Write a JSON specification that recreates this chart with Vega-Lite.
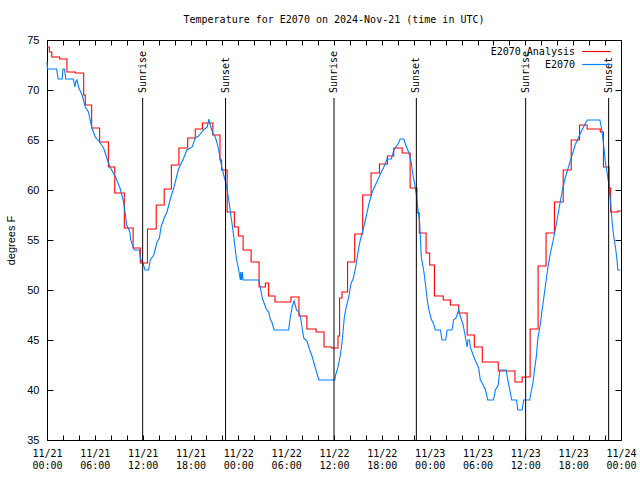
{
  "$schema": "https://vega.github.io/schema/vega-lite/v6.json",
  "width": 574,
  "height": 400,
  "autosize": {"type": "none"},
  "padding": {"left": 47, "top": 40, "right": 19, "bottom": 40},
  "background": "white",
  "title": {"text": "Temperature for E2070 on 2024-Nov-21 (time in UTC)", "font": "DejaVu Sans Mono", "fontSize": 10, "fontWeight": "normal", "offset": 16, "anchor": "middle", "color": "black", "baseline": "middle", "dy": 12},
  "config": {
    "view": {"stroke": "black", "strokeWidth": 1},
    "axis": {"domain": false, "grid": false, "tickColor": "black", "labelColor": "black", "titleColor": "black"},
    "legend": {"orient": "none", "legendX": 542, "legendY": 4, "padding": 0, "symbolType": "M-2.2,0H2.2", "symbolSize": 169, "symbolStrokeWidth": 1.2, "labelFont": "DejaVu Sans Mono", "labelFontSize": 10, "labelColor": "black", "labelAlign": "right", "labelOffset": -29, "rowPadding": 0}
  },
  "datasets": {
    "analysis": [
      {"hour": 0, "temp": 74.3}, {"hour": 0.3, "temp": 73.8}, {"hour": 0.6, "temp": 73.3}, {"hour": 1.6, "temp": 73.1},
      {"hour": 2.5, "temp": 71.8}, {"hour": 3.55, "temp": 71.7}, {"hour": 4.6, "temp": 69.5}, {"hour": 4.8, "temp": 68.5},
      {"hour": 5.6, "temp": 66.2}, {"hour": 6.6, "temp": 64.8}, {"hour": 7.7, "temp": 62.3}, {"hour": 8.5, "temp": 59.7},
      {"hour": 9.7, "temp": 56.2}, {"hour": 10.8, "temp": 54.2}, {"hour": 11.7, "temp": 52.7}, {"hour": 12.6, "temp": 56.1},
      {"hour": 13.7, "temp": 58.5}, {"hour": 14.7, "temp": 60.1}, {"hour": 15.6, "temp": 62.5}, {"hour": 16.55, "temp": 64.2},
      {"hour": 17.65, "temp": 65.2}, {"hour": 18.6, "temp": 66.1}, {"hour": 19.5, "temp": 66.7}, {"hour": 20.8, "temp": 65.5},
      {"hour": 21.7, "temp": 63.0}, {"hour": 21.9, "temp": 62.0}, {"hour": 22.6, "temp": 57.8}, {"hour": 23.5, "temp": 56.3},
      {"hour": 24.0, "temp": 55.4}, {"hour": 24.6, "temp": 54.0}, {"hour": 25.6, "temp": 52.8}, {"hour": 26.6, "temp": 50.3},
      {"hour": 27.4, "temp": 50.7}, {"hour": 27.8, "temp": 49.4}, {"hour": 28.6, "temp": 48.8}, {"hour": 30.6, "temp": 49.3},
      {"hour": 31.6, "temp": 47.4}, {"hour": 32.6, "temp": 46.1}, {"hour": 33.75, "temp": 45.8}, {"hour": 34.75, "temp": 44.3},
      {"hour": 35.7, "temp": 44.2}, {"hour": 36.5, "temp": 45.4}, {"hour": 36.7, "temp": 49.2}, {"hour": 37.0, "temp": 49.8},
      {"hour": 37.7, "temp": 52.8}, {"hour": 38.6, "temp": 55.6}, {"hour": 39.6, "temp": 59.5}, {"hour": 40.65, "temp": 61.7},
      {"hour": 41.7, "temp": 62.6}, {"hour": 42.7, "temp": 63.4}, {"hour": 43.5, "temp": 64.2}, {"hour": 44.55, "temp": 63.7},
      {"hour": 45.55, "temp": 60.2}, {"hour": 46.4, "temp": 57.7}, {"hour": 46.7, "temp": 55.7}, {"hour": 47.55, "temp": 53.7},
      {"hour": 48.0, "temp": 52.5}, {"hour": 48.6, "temp": 49.4}, {"hour": 49.7, "temp": 49.0}, {"hour": 50.6, "temp": 48.5},
      {"hour": 51.65, "temp": 47.7}, {"hour": 52.7, "temp": 45.5}, {"hour": 53.6, "temp": 44.3}, {"hour": 54.6, "temp": 42.8},
      {"hour": 56.6, "temp": 41.9}, {"hour": 58.7, "temp": 40.8}, {"hour": 59.6, "temp": 41.3}, {"hour": 60.6, "temp": 46.1},
      {"hour": 61.6, "temp": 52.4}, {"hour": 62.6, "temp": 55.7}, {"hour": 63.65, "temp": 58.8}, {"hour": 64.75, "temp": 62.0},
      {"hour": 65.75, "temp": 65.0}, {"hour": 66.8, "temp": 66.5}, {"hour": 67.75, "temp": 66.1}, {"hour": 69.4, "temp": 65.8},
      {"hour": 69.8, "temp": 62.3}, {"hour": 70.5, "temp": 60.2}, {"hour": 70.7, "temp": 57.8}, {"hour": 71.6, "temp": 57.9},
      {"hour": 72, "temp": 57.9}
    ],
    "obs": [
      {"hour": 0, "temp": 72.8}, {"hour": 0.05, "temp": 72.1}, {"hour": 1.2, "temp": 72.1}, {"hour": 1.4, "temp": 71.1},
      {"hour": 1.9, "temp": 71.1}, {"hour": 2.0, "temp": 72.1}, {"hour": 2.2, "temp": 72.1}, {"hour": 2.35, "temp": 71.1},
      {"hour": 3.3, "temp": 71.1}, {"hour": 3.5, "temp": 70.3}, {"hour": 3.6, "temp": 70.8}, {"hour": 3.75, "temp": 71.0},
      {"hour": 4.0, "temp": 70.2}, {"hour": 4.4, "temp": 69.5}, {"hour": 4.8, "temp": 68.3}, {"hour": 5.2, "temp": 67.8},
      {"hour": 5.6, "temp": 66.3}, {"hour": 6.05, "temp": 65.3}, {"hour": 6.6, "temp": 64.8}, {"hour": 7.1, "temp": 64.2},
      {"hour": 7.5, "temp": 63.2}, {"hour": 7.9, "temp": 62.3}, {"hour": 8.6, "temp": 61.3}, {"hour": 9.2, "temp": 60.1},
      {"hour": 9.6, "temp": 58.8}, {"hour": 9.8, "temp": 57.7}, {"hour": 10.0, "temp": 56.5}, {"hour": 10.4, "temp": 55.8},
      {"hour": 10.5, "temp": 55.0}, {"hour": 10.95, "temp": 54.0}, {"hour": 11.6, "temp": 54.0}, {"hour": 11.7, "temp": 53.2},
      {"hour": 12.1, "temp": 52.5}, {"hour": 12.3, "temp": 52.0}, {"hour": 12.75, "temp": 52.0}, {"hour": 12.95, "temp": 53.0},
      {"hour": 13.4, "temp": 53.5}, {"hour": 13.8, "temp": 54.8}, {"hour": 14.1, "temp": 55.2}, {"hour": 14.3, "temp": 56.3},
      {"hour": 14.7, "temp": 57.2}, {"hour": 15.05, "temp": 57.8}, {"hour": 15.5, "temp": 59.2}, {"hour": 15.9, "temp": 60.2},
      {"hour": 16.5, "temp": 62.1}, {"hour": 17.1, "temp": 63.1}, {"hour": 17.55, "temp": 64.0}, {"hour": 18.2, "temp": 64.3},
      {"hour": 18.6, "temp": 65.2}, {"hour": 19.0, "temp": 65.4}, {"hour": 19.65, "temp": 66.0}, {"hour": 20.1, "temp": 66.3},
      {"hour": 20.3, "temp": 67.1}, {"hour": 20.5, "temp": 66.4}, {"hour": 20.8, "temp": 65.7}, {"hour": 21.1, "temp": 65.3},
      {"hour": 21.3, "temp": 64.8}, {"hour": 21.5, "temp": 64.1}, {"hour": 21.75, "temp": 63.0}, {"hour": 21.95, "temp": 62.2},
      {"hour": 22.2, "temp": 61.4}, {"hour": 22.4, "temp": 60.8}, {"hour": 22.6, "temp": 60.0}, {"hour": 22.8, "temp": 59.0},
      {"hour": 23.0, "temp": 57.8}, {"hour": 23.2, "temp": 56.7}, {"hour": 23.4, "temp": 55.5}, {"hour": 23.55, "temp": 54.5},
      {"hour": 23.75, "temp": 53.2}, {"hour": 24.05, "temp": 52.0}, {"hour": 24.25, "temp": 51.0}, {"hour": 24.3, "temp": 51.8},
      {"hour": 24.4, "temp": 51.0}, {"hour": 24.5, "temp": 51.8}, {"hour": 24.6, "temp": 51.0}, {"hour": 26.55, "temp": 51.0},
      {"hour": 26.75, "temp": 50.3}, {"hour": 27.0, "temp": 49.2}, {"hour": 27.5, "temp": 48.1}, {"hour": 27.8, "temp": 47.8},
      {"hour": 28.0, "temp": 47.1}, {"hour": 28.2, "temp": 46.8}, {"hour": 28.5, "temp": 46.0}, {"hour": 30.3, "temp": 46.0},
      {"hour": 30.5, "temp": 47.2}, {"hour": 30.75, "temp": 48.3}, {"hour": 31.0, "temp": 48.9}, {"hour": 31.3, "temp": 48.0},
      {"hour": 31.6, "temp": 47.8}, {"hour": 31.8, "temp": 47.3}, {"hour": 32.0, "temp": 46.2}, {"hour": 32.2, "temp": 45.2},
      {"hour": 32.6, "temp": 44.9}, {"hour": 32.95, "temp": 44.0}, {"hour": 33.2, "temp": 43.5}, {"hour": 33.45, "temp": 42.8},
      {"hour": 33.7, "temp": 42.1}, {"hour": 34.1, "temp": 41.0}, {"hour": 36.1, "temp": 41.0}, {"hour": 36.2, "temp": 41.5},
      {"hour": 36.4, "temp": 42.0}, {"hour": 36.6, "temp": 42.7}, {"hour": 36.8, "temp": 43.5}, {"hour": 37.0, "temp": 44.7},
      {"hour": 37.15, "temp": 46.0}, {"hour": 37.3, "temp": 47.3}, {"hour": 37.5, "temp": 48.2}, {"hour": 37.85, "temp": 49.3},
      {"hour": 38.15, "temp": 50.7}, {"hour": 38.4, "temp": 51.1}, {"hour": 38.7, "temp": 52.2}, {"hour": 38.9, "temp": 53.2},
      {"hour": 39.1, "temp": 54.2}, {"hour": 39.3, "temp": 55.0}, {"hour": 39.5, "temp": 55.6}, {"hour": 39.95, "temp": 57.0},
      {"hour": 40.35, "temp": 58.5}, {"hour": 40.8, "temp": 59.8}, {"hour": 41.2, "temp": 60.5}, {"hour": 41.6, "temp": 61.2},
      {"hour": 42.0, "temp": 61.9}, {"hour": 42.2, "temp": 62.2}, {"hour": 42.65, "temp": 63.1}, {"hour": 43.2, "temp": 63.1},
      {"hour": 43.5, "temp": 64.0}, {"hour": 44.1, "temp": 64.7}, {"hour": 44.3, "temp": 65.1}, {"hour": 44.75, "temp": 65.1},
      {"hour": 45.0, "temp": 64.5}, {"hour": 45.4, "temp": 63.7}, {"hour": 45.7, "temp": 62.7}, {"hour": 45.9, "temp": 61.5},
      {"hour": 46.1, "temp": 60.7}, {"hour": 46.3, "temp": 59.7}, {"hour": 46.5, "temp": 58.3}, {"hour": 46.75, "temp": 56.7},
      {"hour": 46.95, "temp": 53.3}, {"hour": 47.3, "temp": 51.7}, {"hour": 47.7, "temp": 49.0}, {"hour": 47.9, "temp": 48.0},
      {"hour": 48.2, "temp": 47.1}, {"hour": 48.5, "temp": 46.6}, {"hour": 48.7, "temp": 46.0}, {"hour": 49.35, "temp": 46.0},
      {"hour": 49.55, "temp": 45.0}, {"hour": 50.0, "temp": 45.0}, {"hour": 50.2, "temp": 46.0}, {"hour": 50.8, "temp": 46.0},
      {"hour": 51.0, "temp": 47.0}, {"hour": 51.3, "temp": 47.2}, {"hour": 51.65, "temp": 48.0}, {"hour": 51.8, "temp": 47.5},
      {"hour": 52.0, "temp": 47.0}, {"hour": 52.2, "temp": 46.5}, {"hour": 52.5, "temp": 45.2}, {"hour": 52.7, "temp": 44.3},
      {"hour": 52.8, "temp": 45.0}, {"hour": 53.0, "temp": 45.0}, {"hour": 53.1, "temp": 44.3}, {"hour": 53.45, "temp": 43.5},
      {"hour": 53.7, "temp": 43.0}, {"hour": 54.15, "temp": 42.2}, {"hour": 54.35, "temp": 41.0}, {"hour": 54.6, "temp": 40.7},
      {"hour": 55.0, "temp": 40.0}, {"hour": 55.3, "temp": 39.0}, {"hour": 56.0, "temp": 39.0}, {"hour": 56.25, "temp": 40.0},
      {"hour": 56.6, "temp": 40.5}, {"hour": 56.8, "temp": 42.0}, {"hour": 57.6, "temp": 42.0}, {"hour": 57.8, "temp": 41.0},
      {"hour": 58.05, "temp": 40.0}, {"hour": 58.3, "temp": 39.0}, {"hour": 58.9, "temp": 39.0}, {"hour": 59.05, "temp": 38.0},
      {"hour": 59.6, "temp": 38.0}, {"hour": 59.8, "temp": 39.0}, {"hour": 60.55, "temp": 39.0}, {"hour": 60.7, "temp": 39.7},
      {"hour": 60.95, "temp": 40.7}, {"hour": 61.15, "temp": 42.0}, {"hour": 61.4, "temp": 43.5}, {"hour": 61.55, "temp": 45.0},
      {"hour": 61.9, "temp": 46.7}, {"hour": 62.1, "temp": 48.0}, {"hour": 62.4, "temp": 49.7}, {"hour": 62.65, "temp": 51.2},
      {"hour": 62.9, "temp": 52.6}, {"hour": 63.15, "temp": 53.7}, {"hour": 63.5, "temp": 55.0}, {"hour": 63.8, "temp": 56.2},
      {"hour": 64.2, "temp": 58.0}, {"hour": 64.6, "temp": 59.8}, {"hour": 65.0, "temp": 61.2}, {"hour": 65.45, "temp": 62.4},
      {"hour": 65.9, "temp": 63.6}, {"hour": 66.3, "temp": 64.6}, {"hour": 66.7, "temp": 65.3}, {"hour": 67.1, "temp": 66.0},
      {"hour": 67.55, "temp": 66.7}, {"hour": 67.8, "temp": 67.0}, {"hour": 69.35, "temp": 67.0}, {"hour": 69.6, "temp": 66.0},
      {"hour": 69.85, "temp": 64.3}, {"hour": 70.05, "temp": 62.7}, {"hour": 70.2, "temp": 62.0}, {"hour": 70.45, "temp": 60.7},
      {"hour": 70.7, "temp": 58.7}, {"hour": 70.9, "temp": 56.7}, {"hour": 71.1, "temp": 55.3}, {"hour": 71.3, "temp": 54.3},
      {"hour": 71.5, "temp": 53.0}, {"hour": 71.6, "temp": 52.0}, {"hour": 71.9, "temp": 52.0}
    ],
    "sun": [
      {"hour": 12.0, "event": "Sunrise"}, {"hour": 22.4, "event": "Sunset"},
      {"hour": 36.0, "event": "Sunrise"}, {"hour": 46.33, "event": "Sunset"},
      {"hour": 60.04, "event": "Sunrise"}, {"hour": 70.45, "event": "Sunset"}
    ]
  },
  "layer": [
    {
      "data": {"name": "analysis"},
      "mark": {"type": "line", "interpolate": "step-after", "strokeWidth": 1.1},
      "encoding": {
        "x": {"field": "hour", "type": "quantitative", "scale": {"domain": [0, 72], "nice": false, "zero": false},
          "axis": {"orient": "bottom", "title": null, "values": [0,2,4,6,8,10,12,14,16,18,20,22,24,26,28,30,32,34,36,38,40,42,44,46,48,50,52,54,56,58,60,62,64,66,68,70,72],
            "tickSize": -5, "labelPadding": 13, "labelFont": "DejaVu Sans Mono", "labelFontSize": 10, "labelLineHeight": 12, "labelBaseline": "top", "labelFlush": false, "labelOverlap": false,
            "labelExpr": "datum.value % 6 == 0 ? ['11/' + (21 + floor(datum.value / 24)), (datum.value % 24 < 10 ? '0' : '') + (datum.value % 24) + ':00'] : ''"}},
        "y": {"field": "temp", "type": "quantitative", "scale": {"domain": [35, 75], "nice": false, "zero": false},
          "axis": {"orient": "left", "title": "degrees F", "values": [35,40,45,50,55,60,65,70,75], "tickSize": -6, "labelPadding": 14,
            "labelFont": "Liberation Sans", "labelFontSize": 11, "titleFont": "Liberation Sans", "titleFontSize": 11, "titleFontWeight": "normal", "titlePadding": 10, "labelFlush": false}},
        "color": {"datum": "E2070 Analysis", "type": "nominal", "scale": {"domain": ["E2070 Analysis", "E2070"], "range": ["#ff0000", "#0080ff"]}, "legend": {"title": null}}
      }
    },
    {
      "data": {"name": "obs"},
      "mark": {"type": "line", "strokeWidth": 1.1},
      "encoding": {
        "x": {"field": "hour", "type": "quantitative", "axis": null},
        "y": {"field": "temp", "type": "quantitative", "axis": null},
        "color": {"datum": "E2070", "type": "nominal"}
      }
    },
    {
      "data": {"name": "sun"},
      "mark": {"type": "rule", "color": "black", "strokeWidth": 1},
      "encoding": {
        "x": {"field": "hour", "type": "quantitative",
          "axis": {"orient": "top", "title": null, "labels": false, "tickSize": -5, "values": [0,2,4,6,8,10,12,14,16,18,20,22,24,26,28,30,32,34,36,38,40,42,44,46,48,50,52,54,56,58,60,62,64,66,68,70,72]}},
        "y": {"datum": 35, "type": "quantitative",
          "axis": {"orient": "right", "title": null, "labels": false, "tickSize": -6, "values": [35,40,45,50,55,60,65,70,75]}},
        "y2": {"datum": 69.2}
      }
    },
    {
      "data": {"name": "sun"},
      "mark": {"type": "text", "angle": 270, "align": "left", "baseline": "middle", "font": "DejaVu Sans Mono", "fontSize": 10, "color": "black"},
      "encoding": {
        "x": {"field": "hour", "type": "quantitative", "axis": null},
        "y": {"datum": 69.7, "type": "quantitative", "axis": null},
        "text": {"field": "event"}
      }
    }
  ],
  "resolve": {"axis": {"x": "independent", "y": "independent"}}
}
